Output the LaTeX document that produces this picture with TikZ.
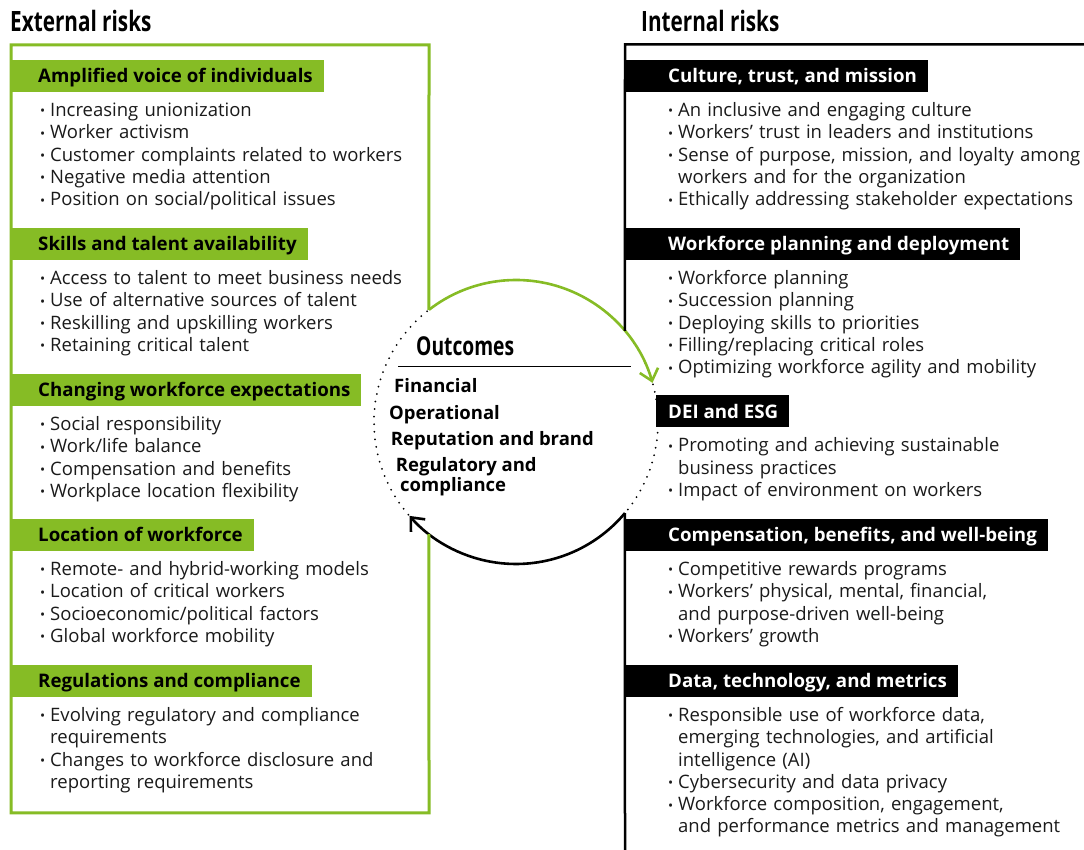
\documentclass[tikz,border=0pt]{standalone}
\usepackage{fontspec}
\setmainfont{Open Sans}
\newfontfamily\condfont[FakeStretch=0.74]{Open Sans}
\usetikzlibrary{arrows.meta}
\definecolor{dgreen}{HTML}{86BC25}
\definecolor{ink}{HTML}{1A1A1A}
\tikzset{
  gbar/.style={fill=dgreen, text=black, anchor=west, inner xsep=11pt, inner ysep=0pt,
    minimum height=32pt, text height=17pt, text depth=3.6pt,
    font=\bfseries\fontsize{18.7}{20}\selectfont},
  kbar/.style={gbar, fill=black, text=white},
  lst/.style={anchor=base west, inner sep=0pt, text width=420pt, align=left, text=ink,
    font=\fontsize{18.5}{22.3}\selectfont},
  ttl/.style={anchor=base west, inner sep=0pt, text=black,
    font=\condfont\bfseries\fontsize{28}{30}\selectfont},
  outc/.style={anchor=base west, inner sep=0pt, text=black,
    font=\bfseries\fontsize{18.5}{20}\selectfont},
  gbox/.style={draw=dgreen, line width=3pt},
  kbox/.style={draw=black, line width=2.5pt},
  ring/.style={draw=black, line width=2pt, line cap=round, dash pattern=on 0pt off 7.6pt},
  loop/.style={line width=2.6pt, -{Straight Barb[length=11pt,width=19pt]}},
}
\newcommand{\itm}{\makebox[8.5pt][l]{\hspace*{-1.5pt}\raisebox{0.6pt}{\fontsize{13.5}{13.5}\selectfont •}}}
\newcommand{\cnt}{\hspace*{8.5pt}}

\begin{document}
\begin{tikzpicture}[x=1pt,y=1pt]
  \useasboundingbox (0,0) rectangle (1084,850);

  % outcome ring and the two loop arrows
  \coordinate (O) at (516,428);
  \draw[ring] (O) circle[radius=142pt];
  \path (O) ++(127.8:142pt) coordinate (gin)
        (O) ++(232.2:142pt) coordinate (gout)
        (O) ++(39.9:142pt)  coordinate (kin)
        (O) ++(-39.9:142pt) coordinate (kout);
  \draw[loop, dgreen] (gin) arc[start angle=127.8, end angle=16, radius=142pt];
  \draw[loop, black] (kout) arc[start angle=-39.9, end angle=-138.6, radius=142pt];

  % titles
  \node[ttl] (ext) at (10,818) {External risks};
  \node[ttl] (int) at (641,818) {Internal risks};

  % external risks
  \node[gbar] (l1) at (11,774) {\hspace*{16pt}Amplified voice of individuals};
  \node[lst] (l1list) at (41.5,733.5) {\itm Increasing unionization\\
    \itm Worker activism\\
    \itm Customer complaints related to workers\\
    \itm Negative media attention\\
    \itm Position on social/political issues};
  \node[gbar] (l2) at (11,606) {\hspace*{16pt}Skills and talent availability};
  \node[lst] (l2list) at (41.5,565.5) {\itm Access to talent to meet business needs\\
    \itm Use of alternative sources of talent\\
    \itm Reskilling and upskilling workers\\
    \itm Retaining critical talent};
  \node[gbar] (l3) at (11,460) {\hspace*{16pt}Changing workforce expectations};
  \node[lst] (l3list) at (41.5,419.5) {\itm Social responsibility\\
    \itm Work/life balance\\
    \itm Compensation and benefits\\
    \itm Workplace location flexibility};
  \node[gbar] (l4) at (11,315) {\hspace*{16pt}Location of workforce};
  \node[lst] (l4list) at (41.5,274.5) {\itm Remote- and hybrid-working models\\
    \itm Location of critical workers\\
    \itm Socioeconomic/political factors\\
    \itm Global workforce mobility};
  \node[gbar] (l5) at (11,169) {\hspace*{16pt}Regulations and compliance};
  \node[lst] (l5list) at (41.5,128.5) {\itm Evolving regulatory and compliance\\
    \cnt requirements\\
    \itm Changes to workforce disclosure and\\
    \cnt reporting requirements};
  \draw[gbox] (gin) -- (429,805) -- (11,805) -- (11,37) -- (429,37) -- (gout);

  % internal risks
  \node[kbar] (r1) at (625,774) {\hspace*{32pt}Culture, trust, and mission};
  \node[lst] (r1list) at (669.5,733.5) {\itm An inclusive and engaging culture\\
    \itm Workers’ trust in leaders and institutions\\
    \itm Sense of purpose, mission, and loyalty among\\
    \cnt workers and for the organization\\
    \itm Ethically addressing stakeholder expectations};
  \node[kbar] (r2) at (625,606) {\hspace*{32pt}Workforce planning and deployment};
  \node[lst] (r2list) at (669.5,565.5) {\itm Workforce planning\\
    \itm Succession planning\\
    \itm Deploying skills to priorities\\
    \itm Filling/replacing critical roles\\
    \itm Optimizing workforce agility and mobility};
  \node[kbar] (r3) at (656,438.5) {\hspace*{1pt}DEI and ESG};
  \node[lst] (r3list) at (669.5,398) {\itm Promoting and achieving sustainable\\
    \cnt business practices\\
    \itm Impact of environment on workers};
  \node[kbar] (r4) at (625,315) {\hspace*{32pt}Compensation, benefits, and well-being};
  \node[lst] (r4list) at (669.5,274.5) {\itm Competitive rewards programs\\
    \itm Workers’ physical, mental, financial,\\
    \cnt and purpose-driven well-being\\
    \itm Workers’ growth};
  \node[kbar] (r5) at (625,169) {\hspace*{32pt}Data, technology, and metrics};
  \node[lst] (r5list) at (669.5,128.5) {\itm Responsible use of workforce data,\\
    \cnt emerging technologies, and artificial\\
    \cnt intelligence (AI)\\
    \itm Cybersecurity and data privacy\\
    \itm Workforce composition, engagement,\\
    \cnt and performance metrics and management};
  \draw[kbox] (1090,805.5) -- (625,805.5) -- (kin);
  \draw[kbox] (kout) -- (625,-5);

  % outcomes inside the ring
  \node[anchor=base west, inner sep=0pt, font=\condfont\bfseries\fontsize{26}{28}\selectfont]
    (outhead) at (416,494) {Outcomes};
  \coordinate (ruleL) at (398,483.3);
  \coordinate (ruleR) at (631,483.3);
  \draw[line width=1.3pt] (ruleL) -- (ruleR);
  \node[outc] (fin) at (394,457) {Financial};
  \node[outc] (ops) at (389,430) {Operational};
  \node[outc] (rep) at (390.7,404.3) {Reputation and brand};
  \node[outc] (reg) at (395.7,378) {Regulatory and};
  \node[outc] (comp) at (400,358.3) {compliance};
\end{tikzpicture}
\end{document}
